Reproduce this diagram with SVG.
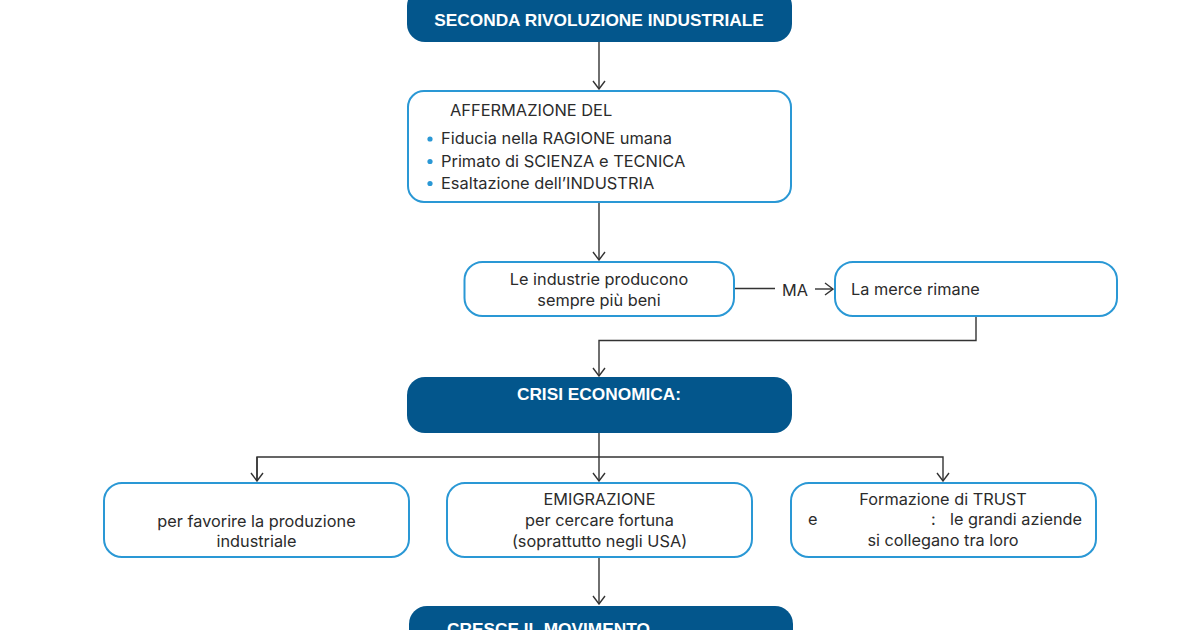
<svg xmlns="http://www.w3.org/2000/svg" width="1200" height="630" viewBox="0 0 1200 630">
<style>
.dark{fill:#03568C;}
.light{fill:#ffffff;stroke:#2A98D5;stroke-width:2;}
.h{font-family:"Liberation Sans",Arial,sans-serif;font-weight:bold;font-size:17.3px;fill:#ffffff;}
.t{font-family:Inter,"Noto Sans",sans-serif;font-size:16.3px;fill:#2b2b2b;}
.t2{font-family:Inter,"Noto Sans",sans-serif;font-size:16.4px;fill:#2b2b2b;}
.c{text-anchor:middle;}
.ln{fill:none;stroke:#333333;stroke-width:1.4;}
</style>
<defs>
<marker id="ar" markerUnits="userSpaceOnUse" viewBox="-9 -7 10 14" refX="0" refY="0" markerWidth="10" markerHeight="14" orient="auto">
<path d="M-8,-6 L0,0 L-8,6" fill="none" stroke="#333333" stroke-width="1.4"/>
</marker>
</defs>
<rect width="1200" height="630" fill="#ffffff"/>
<g id="connectors">
<path class="ln" d="M599,42 V89" marker-end="url(#ar)"/>
<path class="ln" d="M599,202 V260" marker-end="url(#ar)"/>
<path class="ln" d="M734,288.5 H775"/>
<path class="ln" d="M815,289 H833" marker-end="url(#ar)"/>
<path class="ln" d="M976,316 V340.5 H599 V376" marker-end="url(#ar)"/>
<path class="ln" d="M599,433 V457"/>
<path class="ln" d="M257,481 V457 H943 V481" marker-end="url(#ar)"/>
<path class="ln" d="M257,457 V481" marker-end="url(#ar)"/>
<path class="ln" d="M599,457 V481" marker-end="url(#ar)"/>
<path class="ln" d="M599,557 V604" marker-end="url(#ar)"/>
<text class="t" x="782" y="295.5">MA</text>
</g>
<g id="n1">
<rect class="dark" x="407" y="-12" width="385" height="54" rx="18"/>
<text class="h c" x="599" y="26">SECONDA RIVOLUZIONE INDUSTRIALE</text>
</g>
<g id="n2">
<rect class="light" x="408" y="91" width="383" height="111" rx="16"/>
<text class="t2" x="450" y="116">AFFERMAZIONE DEL</text>
<circle cx="430" cy="139" r="2.6" fill="#2A98D5"/>
<circle cx="430" cy="161.5" r="2.6" fill="#2A98D5"/>
<circle cx="430" cy="183.5" r="2.6" fill="#2A98D5"/>
<text class="t2" x="441" y="144.3">Fiducia nella RAGIONE umana</text>
<text class="t2" x="441" y="166.7">Primato di SCIENZA e TECNICA</text>
<text class="t2" x="441" y="188.5">Esaltazione dell’INDUSTRIA</text>
</g>
<g id="n3">
<rect class="light" x="464.5" y="262" width="269.5" height="54" rx="18"/>
<text class="t c" x="599" y="285">Le industrie producono</text>
<text class="t c" x="599" y="306">sempre più beni</text>
</g>
<g id="n4">
<rect class="light" x="835" y="262" width="282" height="54" rx="18"/>
<text class="t" x="851" y="294.5">La merce rimane</text>
</g>
<g id="n5">
<rect class="dark" x="407" y="377" width="385" height="56" rx="18"/>
<text class="h c" x="599" y="400">CRISI ECONOMICA:</text>
</g>
<g id="n6">
<rect class="light" x="104" y="483" width="305" height="74" rx="18"/>
<text class="t c" x="256.5" y="526.5">per favorire la produzione</text>
<text class="t c" x="256.5" y="547">industriale</text>
</g>
<g id="n7">
<rect class="light" x="447" y="483" width="305" height="74" rx="18"/>
<text class="t c" x="599.5" y="505">EMIGRAZIONE</text>
<text class="t c" x="599.5" y="526">per cercare fortuna</text>
<text class="t c" x="599.5" y="547">(soprattutto negli USA)</text>
</g>
<g id="n8">
<rect class="light" x="791" y="483" width="305" height="74" rx="18"/>
<text class="t c" x="943" y="505">Formazione di TRUST</text>
<text class="t" x="808" y="525">e</text>
<text class="t" x="931" y="525">:</text>
<text class="t" x="1082" y="525" text-anchor="end">le grandi aziende</text>
<text class="t c" x="943" y="546">si collegano tra loro</text>
</g>
<g id="n9">
<rect class="dark" x="409" y="606" width="384" height="60" rx="18"/>
<text class="h" x="447" y="635">CRESCE IL MOVIMENTO</text>
</g>
</svg>
